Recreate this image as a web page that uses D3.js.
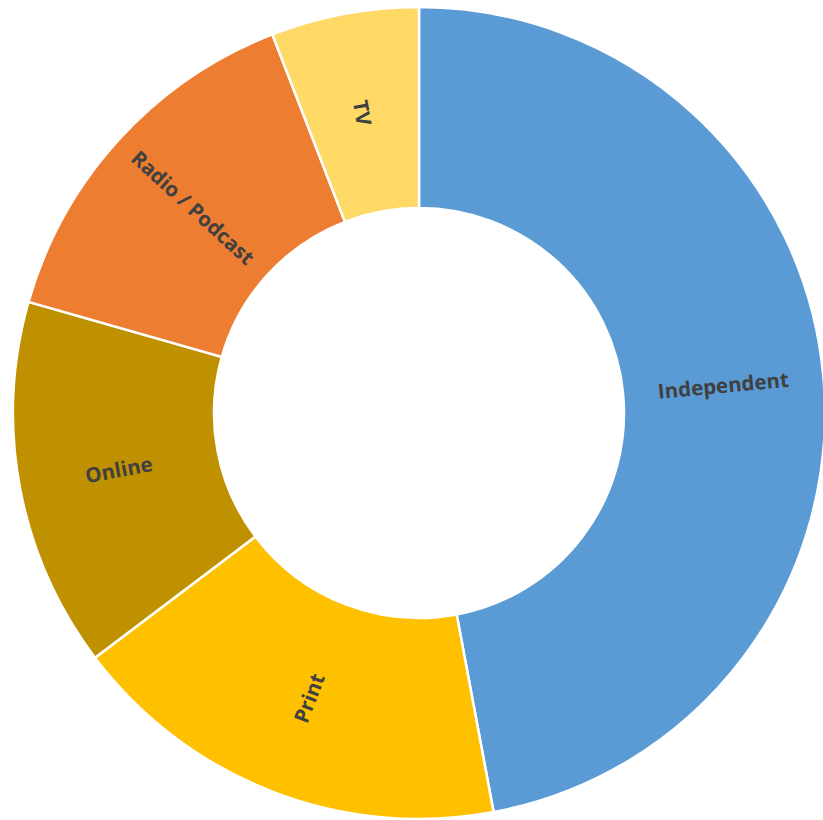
<!DOCTYPE html>
<html>
<head>
<meta charset="utf-8">
<script src="https://cdn.jsdelivr.net/npm/d3@7"></script>
<style>
  html, body { margin: 0; padding: 0; background: #fff; }
  svg { display: block; }
</style>
</head>
<body>
<svg id="chart" width="823" height="820"></svg>
<script>
// Chart data, clockwise from 12 o'clock
const categories = ["Independent", "Print", "Online", "Radio / Podcast", "TV"];
const counts = [32, 12, 10, 10, 4];
const colors = ["#5B9BD5", "#FFC000", "#BF9000", "#ED7D31", "#FFD966"];

const width = 823;
const height = 820;
const cx = 419;
const cy = 413;
const outerRadius = 406;
const innerRadius = 205;

const svg = d3.select("#chart");

const data = categories.map((c, i) => ({ name: c, value: counts[i], color: colors[i] }));

const pie = d3.pie()
  .sort(null)
  .value(d => d.value);

const arc = d3.arc()
  .innerRadius(innerRadius)
  .outerRadius(outerRadius);

const g = svg.append("g")
  .attr("transform", `translate(${cx},${cy})`);

const arcs = pie(data);

// Slices
g.selectAll("path.slice")
  .data(arcs)
  .enter()
  .append("path")
  .attr("class", "slice")
  .attr("d", arc)
  .attr("fill", d => d.data.color)
  .attr("stroke", "#fff")
  .attr("stroke-width", 2.5);

// Labels, rotated along the radius
g.selectAll("text.label")
  .data(arcs)
  .enter()
  .append("text")
  .attr("class", "label")
  .attr("transform", d => {
    const [x, y] = arc.centroid(d);
    const mid = (d.startAngle + d.endAngle) / 2 * 180 / Math.PI;
    let rot = mid - 90;
    if (rot > 90) rot -= 180;
    return `translate(${x},${y}) rotate(${rot})`;
  })
  .attr("text-anchor", "middle")
  .attr("dominant-baseline", "central")
  .attr("font-family", "'Open Sans', sans-serif")
  .attr("font-weight", "bold")
  .attr("font-size", 20.5)
  .attr("fill", "#404040")
  .text(d => d.data.name);
</script>
</body>
</html>
